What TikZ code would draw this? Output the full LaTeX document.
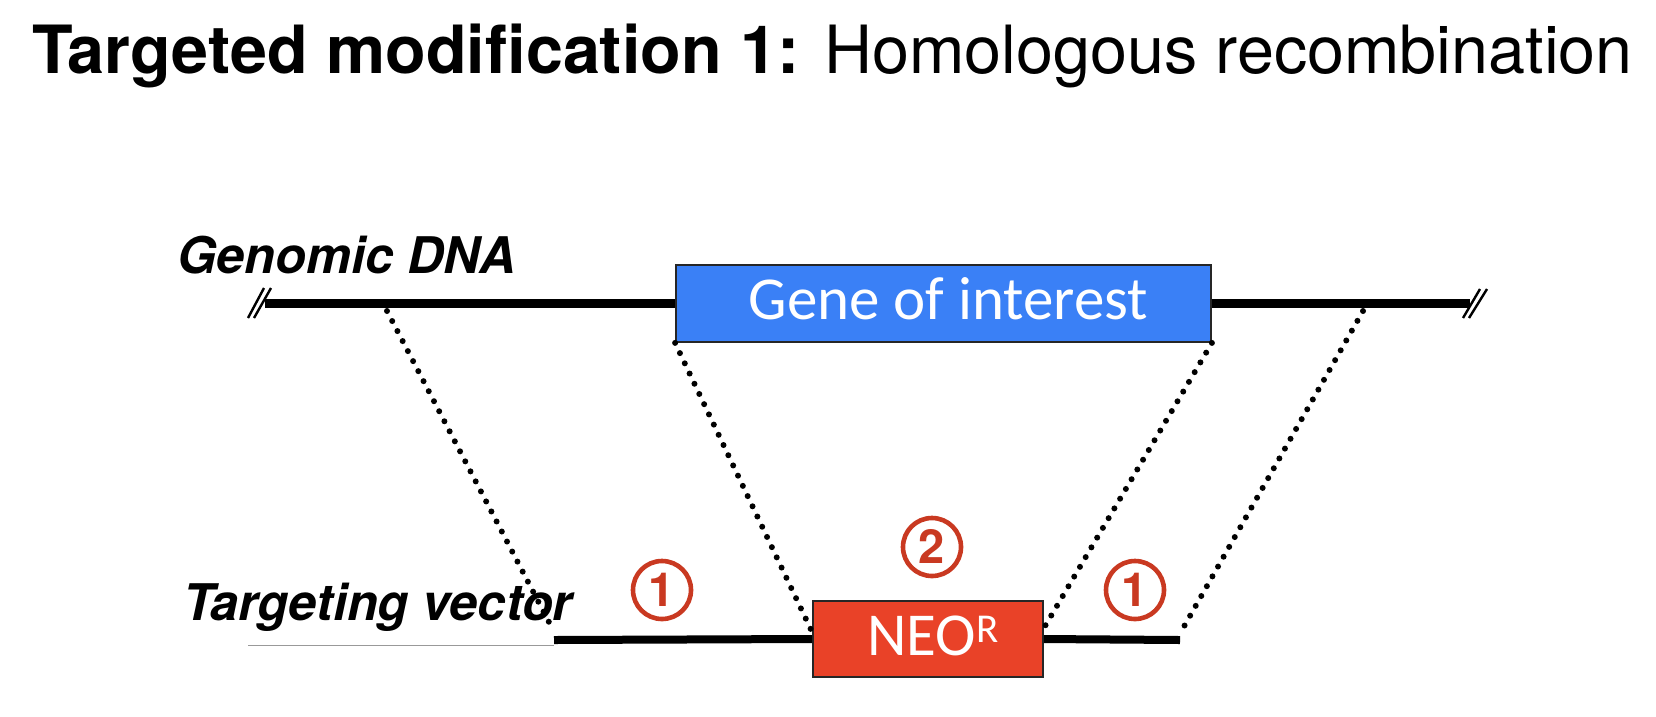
\documentclass[tikz,border=0pt]{standalone}
\usepackage{fontspec}
\setmainfont{TeX Gyre Heros}
\newfontfamily\calfont{Carlito}
\usetikzlibrary{calc}
\definecolor{geneblue}{RGB}{58,128,246}
\definecolor{neored}{RGB}{233,66,40}
\definecolor{circred}{RGB}{201,57,33}
\tikzset{
  dnaline/.style={line width=9pt},
  vecline/.style={line width=8pt},
  breakmark/.style={line width=2.4pt},
  dotline/.style={line width=6pt, line cap=round, dash pattern=on 0pt off 11.3pt},
  genebox/.style={draw=black!85, line width=1.8pt, fill=geneblue, text=white, inner sep=0pt,
    font=\calfont\fontsize{61}{61}\selectfont, text height=31pt, text depth=0pt},
  circnum/.style={circle, draw=circred, line width=4.6pt, minimum size=58pt, inner sep=0pt,
    text=circred, font=\bfseries\fontsize{47}{47}\selectfont, text height=32pt, text depth=0pt},
  lbl/.style={anchor=base west, inner sep=0pt}
}
\begin{document}
\begin{tikzpicture}[x=1pt,y=-1pt]
\useasboundingbox (0,0) rectangle (1656,716);
% title
\node[lbl, font=\fontsize{66.5}{66.5}\selectfont] (title) at (32,73)
  {\textbf{Targeted modification 1:} Homologous recombination};
% labels
\node[lbl, font=\bfseries\itshape\fontsize{50.5}{50.5}\selectfont] (glabel) at (177,273) {Genomic DNA};
\node[lbl, font=\bfseries\itshape\fontsize{50.5}{50.5}\selectfont] (vlabel) at (183,620) {Targeting vector};
% boxes
\node[genebox, minimum width=535pt, minimum height=77pt] (gene) at (943.5,303.5) {\hspace{10pt}Gene of interest};
\node[genebox, fill=neored, minimum width=230pt, minimum height=76pt, text height=32pt] (neo) at (928,639)
  {\hspace{10pt}NEO\raisebox{13pt}{\fontsize{41}{41}\selectfont R}};
% genomic DNA line
\coordinate (gL) at (265,303.5);
\coordinate (gR) at (1470,303.5);
\draw[dnaline] (gL) -- (gene.west);
\draw[dnaline] (gene.east) -- (gR);
% break marks
\coordinate (bl1a) at (248,318); \coordinate (bl1b) at (264,288);
\coordinate (bl2a) at (254,318); \coordinate (bl2b) at (271,288);
\coordinate (br1a) at (1463,318); \coordinate (br1b) at (1480,289);
\coordinate (br2a) at (1469,318); \coordinate (br2b) at (1487,289);
\draw[breakmark] (bl1a) -- (bl1b);
\draw[breakmark] (bl2a) -- (bl2b);
\draw[breakmark] (br1a) -- (br1b);
\draw[breakmark] (br2a) -- (br2b);
% targeting vector line
\coordinate (vL) at (554,640);
\coordinate (vR) at (1180,640);
\coordinate (gs) at (248,645.5);
\coordinate (ge) at (554,645.5);
\draw[line width=1.8pt, black!40] (gs) -- (ge);
\draw[vecline] (vL) -- (neo.west);
\draw[vecline] (neo.east) -- (vR);
% dotted homology lines
\coordinate (d1a) at (387,311);
\coordinate (d1b) at (551,626);
\coordinate (d4a) at (1363,311);
\coordinate (d4b) at (1182,630);
\draw[dotline] (d1a) -- (d1b);
\draw[dotline] (gene.south west) -- ($(neo.west)+(0,-7)$);
\draw[dotline] (gene.south east) -- ($(neo.east)+(0,-11)$);
\draw[dotline] (d4a) -- (d4b);
% circled numbers
\node[circnum] (c1l) at (662,590) {1};
\node[circnum] (c2) at (932,547) {2};
\node[circnum] (c1r) at (1135,590) {1};
\end{tikzpicture}
\end{document}
